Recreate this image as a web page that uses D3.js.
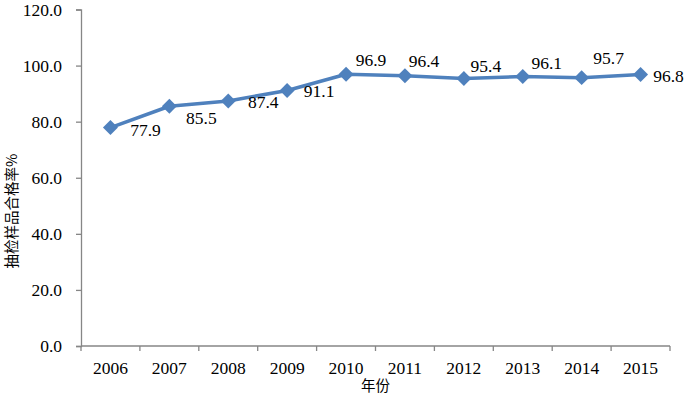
<!DOCTYPE html>
<html>
<head>
<meta charset="utf-8">
<script src="https://cdn.jsdelivr.net/npm/d3@7"></script>
<style>
  html, body { margin: 0; background: #fff; overflow: hidden; }
  svg { display: block; }
  .num { font-family: "Liberation Serif", "Times New Roman", serif; font-size: 17.5px; fill: #000; }
  .cjk { font-family: "Noto Sans CJK SC", sans-serif; font-size: 14.5px; fill: #000; }
</style>
</head>
<body>
<div id="chart"></div>
<script>
// Data
const years = ['2006', '2007', '2008', '2009', '2010', '2011', '2012', '2013', '2014', '2015'];
const passRate = [77.9, 85.5, 87.4, 91.1, 96.9, 96.4, 95.4, 96.1, 95.7, 96.8];
const yTicks = [0, 20, 40, 60, 80, 100, 120];
const xTitle = '年份';
const yTitle = '抽检样品合格率%';

// label placement around each marker (dx, dy from the point)
const labelOffsets = [[35, 2], [32, 12], [35, 1], [32, 0], [25, -14], [19, -15], [22, -13], [24, -14], [27, -20], [28, 1]];

const width = 688, height = 395;
const margin = { top: 9.5, right: 18, bottom: 49, left: 81 };
const innerWidth = width - margin.left - margin.right;
const innerHeight = height - margin.top - margin.bottom;

const blue = '#4F81BD';
const axisColor = '#868686';

const svg = d3.select('#chart')
    .append('svg')
    .attr('width', width)
    .attr('height', height);

const g = svg.append('g')
    .attr('transform', `translate(${margin.left},${margin.top})`);

// Scales
const xScale = d3.scaleBand()
    .domain(years)
    .range([0, innerWidth]);

const yScale = d3.scaleLinear()
    .domain([0, 120])
    .range([innerHeight, 0]);

// Y axis
const yAxis = g.append('g')
    .call(d3.axisLeft(yScale).tickValues(yTicks).tickSize(5).tickPadding(14).tickFormat(d3.format('.1f')));
yAxis.attr('font-family', null).attr('font-size', null);
yAxis.select('.domain').attr('stroke', axisColor).attr('stroke-width', 1.3);
yAxis.selectAll('.tick line').attr('stroke', axisColor).attr('stroke-width', 1.3);
yAxis.selectAll('.tick text').attr('class', 'num');

// X axis with ticks on band edges
const xAxis = g.append('g')
    .attr('transform', `translate(0,${innerHeight})`);
xAxis.append('line')
    .attr('x1', 0).attr('x2', innerWidth)
    .attr('stroke', axisColor).attr('stroke-width', 1.3);
d3.range(years.length + 1).forEach(i => {
    const x = i * xScale.step();
    xAxis.append('line')
        .attr('x1', x).attr('x2', x)
        .attr('y1', 0).attr('y2', 5)
        .attr('stroke', axisColor).attr('stroke-width', 1.3);
});
years.forEach(d => {
    xAxis.append('text')
        .attr('class', 'num')
        .attr('x', xScale(d) + xScale.bandwidth() / 2)
        .attr('y', 22)
        .attr('dy', '0.32em')
        .attr('text-anchor', 'middle')
        .text(d);
});

// Line
const cx = (d, i) => xScale(years[i]) + xScale.bandwidth() / 2;
const line = d3.line()
    .x((d, i) => cx(d, i))
    .y(d => yScale(d));

g.append('path')
    .datum(passRate)
    .attr('fill', 'none')
    .attr('stroke', blue)
    .attr('stroke-width', 3.5)
    .attr('stroke-linejoin', 'round')
    .attr('d', line);

// Diamond markers (rotated squares, ~15px across)
const marker = d3.symbol().type(d3.symbolSquare).size(112);
g.selectAll('.dot')
    .data(passRate)
    .enter().append('path')
    .attr('class', 'dot')
    .attr('transform', (d, i) => `translate(${cx(d, i)},${yScale(d)}) rotate(45)`)
    .attr('d', marker)
    .attr('fill', blue);

// Data labels
g.selectAll('.label')
    .data(passRate)
    .enter().append('text')
    .attr('class', 'num')
    .attr('x', (d, i) => cx(d, i) + labelOffsets[i][0])
    .attr('y', (d, i) => yScale(d) + labelOffsets[i][1])
    .attr('dy', '0.35em')
    .attr('text-anchor', 'middle')
    .text(d => d3.format('.1f')(d));

// Axis titles
svg.append('text')
    .attr('class', 'cjk')
    .attr('x', margin.left + innerWidth / 2)
    .attr('y', 386)
    .attr('dy', '0.35em')
    .attr('text-anchor', 'middle')
    .text(xTitle);

svg.append('text')
    .attr('class', 'cjk')
    .attr('transform', 'rotate(-90)')
    .attr('x', -211)
    .attr('y', 12)
    .attr('dy', '0.35em')
    .attr('text-anchor', 'middle')
    .text(yTitle);
</script>
</body>
</html>
